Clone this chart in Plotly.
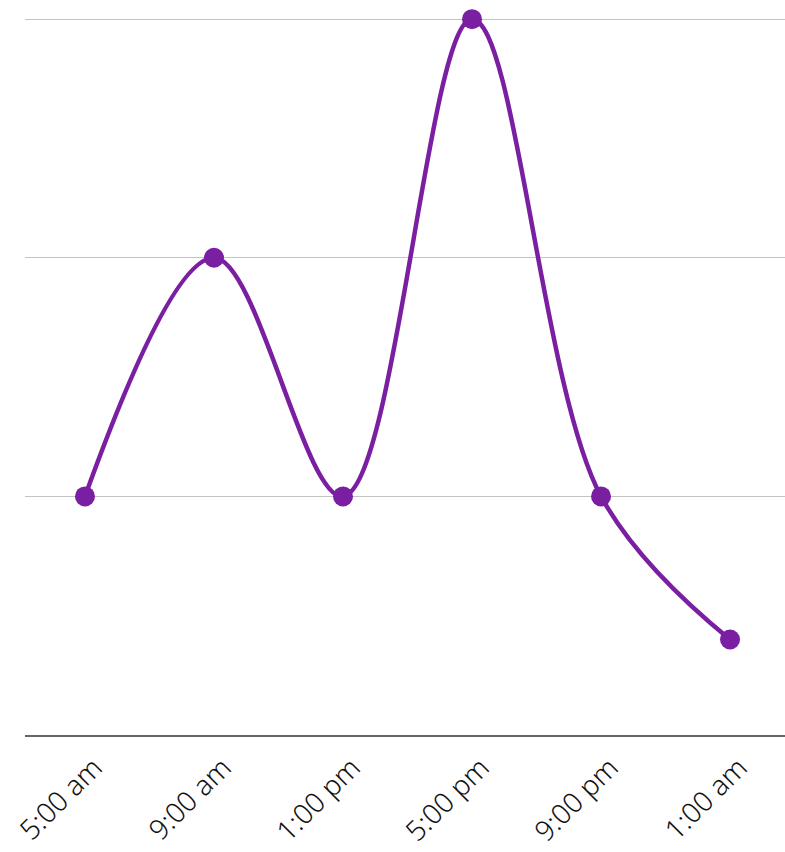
import plotly.graph_objects as go

categories = ["5:00 am", "9:00 am", "1:00 pm", "5:00 pm", "9:00 pm", "1:00 am"]
values = [1, 2, 1, 3, 1, 0.4]
y_ticks = [0, 1, 2, 3]

fig = go.Figure()
fig.add_trace(go.Scatter(
    x=list(range(len(categories))), y=values,
    mode="lines+markers",
    line=dict(color="#7B1FA2", width=4.5, shape="spline", smoothing=1),
    marker=dict(color="#7B1FA2", size=20),
    cliponaxis=False,
    hoverinfo="skip",
))

fig.update_layout(
    width=785, height=852,
    margin=dict(l=25, r=0, t=12, b=117),
    plot_bgcolor="white", paper_bgcolor="white",
    showlegend=False,
    font=dict(family="Noto Sans, Open Sans, sans-serif", size=28, color="#111111", weight=300),
)
fig.update_xaxes(
    range=[-0.465, 5.426], automargin=False,
    tickmode="array", tickvals=list(range(len(categories))), ticktext=categories,
    tickangle=-45, showgrid=False, zeroline=False,
    showline=True, linecolor="#666666", linewidth=2,
    ticks="", ticklabelstandoff=3, ticklabelshift=9,
)
fig.update_yaxes(
    range=[0, 3.03], automargin=False, tickvals=y_ticks, showticklabels=False,
    showgrid=True, gridcolor="#c4c4c4", gridwidth=1,
    zeroline=False, showline=False, ticks="",
)
fig.write_html("out.html", config={"displayModeBar": False},
               post_script="document.body.style.margin='0';")
